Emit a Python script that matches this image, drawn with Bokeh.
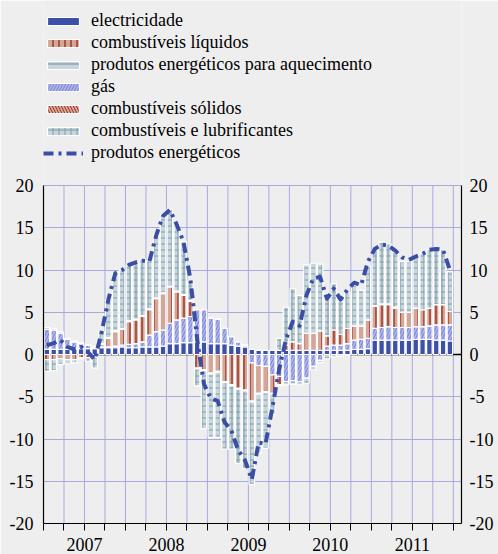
import numpy as np
from bokeh.plotting import figure
from bokeh.models import (ColumnDataSource, FixedTicker, LinearAxis, Legend,
                          LegendItem, Span, Range1d)
from bokeh.embed import file_html
from bokeh.resources import INLINE

years = ["2007", "2008", "2009", "2010", "2011"]

electricidade = [0.6, 0.6, 0.6, 0.6, 0.6, 0.7, 0.7, 0.7, 0.8, 0.8, 0.8, 0.9,
                 0.8, 0.8, 0.9, 0.9, 0.9, 1.0, 1.3, 1.3, 1.4, 1.4, 1.5, 1.5,
                 1.3, 1.3, 1.3, 1.1, 1.0, 0.9, 0.6, 0.5, 0.5, 0.5, 0.5, 0.5,
                 0.5, 0.5, 0.5, 0.5, 0.5, 0.5, 0.5, 0.5, 0.5, 0.6, 0.6, 0.7,
                 1.7, 1.7, 1.7, 1.7, 1.7, 1.7, 1.8, 1.8, 1.8, 1.7, 1.7, 1.6]
gas = [2.4, 2.3, 1.9, 1.2, 0.9, 0.6, 0.4, 0.2, 0.1, 0.1, 0.2, 0.2,
       0.4, 0.5, 0.6, 1.4, 1.8, 1.9, 2.4, 2.8, 2.9, 3.1, 3.8, 3.8,
       3.0, 2.9, 1.8, 1.0, 0.5, 0.2, -1.0, -1.3, -1.4, -2.4, -2.6, -3.2,
       -3.1, -3.2, -2.8, -1.4, -0.7, 0.5, 0.6, 0.6, 0.8, 1.1, 1.2, 1.2,
       1.4, 1.5, 1.6, 1.5, 1.5, 1.5, 1.5, 1.5, 1.6, 1.8, 1.8, 1.9]
combustiveis_solidos = [0.0, 0.0, 0.0, 0.0, 0.0, 0.0, 0.0, 0.0, 0.0, 0.0, 0.0, 0.0,
                        0.0, 0.0, 0.0, 0.0, 0.0, 0.0, 0.0, 0.0, 0.0, 0.0, 0.0, 0.0,
                        0.0, 0.0, 0.0, 0.0, 0.0, 0.0, 0.0, 0.0, 0.0, 0.0, 0.0, 0.0,
                        0.0, 0.0, 0.0, 0.0, 0.0, 0.0, 0.0, 0.0, 0.0, 0.0, 0.0, 0.0,
                        0.0, 0.0, 0.0, 0.0, 0.0, 0.0, 0.0, 0.0, 0.0, 0.0, 0.0, 0.0]
combustiveis_liquidos = [-0.6, -0.6, -0.5, -0.6, -0.6, -0.4, -0.4, -0.3, 0.3, 1.0, 1.7, 1.9,
                         2.7, 2.8, 3.0, 3.0, 3.9, 4.3, 4.3, 3.3, 2.7, 1.8, -1.6, -1.8,
                         -2.2, -2.0, -3.2, -3.6, -4.0, -4.2, -4.5, -3.3, -3.0, -2.2, -1.0, 0.6,
                         1.0, 0.8, 2.0, 2.0, 2.3, 1.2, 1.8, 1.3, 1.8, 1.7, 1.6, 2.2,
                         2.6, 2.7, 2.6, 2.3, 1.8, 1.8, 2.2, 2.0, 2.1, 2.4, 2.4, 1.6]
aquecimento = [0.2, 0.2, 0.2, 0.1, 0.1, 0.1, 0.0, 0.0, 0.1, 0.1, 0.1, 0.1,
               0.1, 0.1, 0.1, 0.1, 0.1, 0.1, 0.1, 0.1, 0.1, 0.1, -0.1, -0.1,
               -0.1, -0.1, -0.1, -0.1, -0.1, -0.1, -0.1, -0.1, -0.1, -0.1, -0.1, -0.4,
               -0.4, -0.4, -0.6, -0.4, -0.3, -0.5, -0.3, -0.2, -0.1, 0.0, 0.0, 0.0,
               0.1, 0.1, 0.1, 0.1, 0.0, 0.0, 0.0, 0.0, 0.0, 0.0, 0.0, 0.0]
lubrificantes = [-1.4, -1.3, -0.7, -0.5, -0.4, -0.1, -0.4, -1.3, 1.4, 4.5, 6.8, 6.9,
                 6.7, 6.7, 6.7, 5.7, 7.5, 9.2, 9.1, 8.0, 6.3, 2.3, -2.0, -6.9,
                 -7.5, -7.7, -7.9, -7.5, -8.8, -9.2, -9.8, -7.0, -6.6, -2.4, 1.4, 4.5,
                 6.3, 5.7, 8.1, 8.3, 7.9, 4.6, 5.5, 3.9, 4.3, 4.8, 4.2, 6.3,
                 6.6, 7.3, 7.1, 6.5, 6.0, 6.0, 6.1, 6.7, 6.9, 6.7, 6.5, 4.7]
produtos_energeticos = [1.1, 1.35, 1.7, 0.9, 0.6, 0.9, 0.3, -0.6, 2.6, 6.5, 9.6, 10.0,
                        10.6, 10.9, 11.1, 11.0, 14.1, 16.4, 17.1, 15.4, 13.3, 9.0, 1.8, -3.5,
                        -5.2, -5.5, -8.0, -9.0, -11.3, -12.5, -14.8, -10.4, -10.6, -6.3, -1.8, 1.8,
                        3.9, 3.4, 7.0, 9.0, 9.2, 6.6, 7.8, 6.5, 7.7, 8.5, 8.2, 11.0,
                        12.5, 13.0, 12.9, 12.3, 11.5, 11.2, 11.6, 11.9, 12.4, 12.5, 12.4, 10.0]
y_ticks = [-20, -15, -10, -5, 0, 5, 10, 15, 20]

FONT = "Liberation Serif"
BG = "#eeeeee"
GRID = "#a9a9e2"

n = len(electricidade)
x = [i + 0.5 for i in range(n)]
quarters = list(range(3, n + 1, 3))

# the frame reaches the top of the picture so that the legend is not clipped;
# the y axes, grid and ticks are bounded to -20..20
p = figure(width=498, height=554, output_backend="svg", toolbar_location=None,
           x_range=Range1d(0, 61.2), y_range=Range1d(-20, 41.9),
           min_border_left=43, min_border_right=37, min_border_top=0,
           min_border_bottom=31, background_fill_color=BG, border_fill_color=BG,
           outline_line_color=None)

p.xgrid.visible = False
p.ygrid.ticker = FixedTicker(ticks=y_ticks)
p.ygrid.grid_line_color = GRID

p.segment(x0=quarters, y0=[y_ticks[0]] * len(quarters), x1=quarters,
          y1=[y_ticks[-1]] * len(quarters), line_color=GRID, line_width=1,
          level="underlay")

p.add_layout(Span(location=0, dimension="width", line_color="black",
                  line_width=1.5, level="underlay"))

series = [
    ("electricidade", electricidade, dict(fill_color="#3c50a8", hatch_pattern=None)),
    ("gás", gas, dict(fill_color="#adb2ea", hatch_pattern="/", hatch_color="#6c78d0",
                      hatch_scale=6, hatch_weight=0.8)),
    ("combustíveis sólidos", combustiveis_solidos,
     dict(fill_color="#d4a696", hatch_pattern="\\", hatch_color="#a0382a",
          hatch_scale=6, hatch_weight=1)),
    ("combustíveis líquidos", combustiveis_liquidos,
     dict(fill_color="#d4a696", hatch_pattern="|", hatch_color="#a0382a",
          hatch_scale=6, hatch_weight=1.5)),
    ("produtos energéticos para aquecimento", aquecimento,
     dict(fill_color="#c7d6dc", hatch_pattern="-", hatch_color="#6f8e99",
          hatch_scale=6, hatch_weight=1)),
    ("combustíveis e lubrificantes", lubrificantes,
     dict(fill_color="#c7d6dc", hatch_pattern="+", hatch_color="#7f9ca6",
          hatch_scale=6, hatch_weight=1)),
]

pos = np.zeros(n)
neg = np.zeros(n)
renderers = {}
for name, vals, style in series:
    v = np.array(vals, dtype=float)
    bottom = np.where(v >= 0, pos, neg + v)
    top = np.where(v >= 0, pos + v, neg)
    pos = pos + np.clip(v, 0, None)
    neg = neg + np.clip(v, None, 0)
    src = ColumnDataSource(dict(x=x, top=top, bottom=bottom))
    r = p.vbar(x="x", width=0.8, top="top", bottom="bottom", source=src,
               line_color="white", line_width=1.2, **style)
    renderers[name] = r

line_r = p.line(x, produtos_energeticos, line_color="#3b4ea6", line_width=4,
                line_dash="10 5 3 5", line_join="round")

# axes
p.xaxis.ticker = FixedTicker(ticks=[6, 18, 30, 42, 54],
                             minor_ticks=list(range(0, n + 1, 3)))
p.xaxis.major_label_overrides = {6 + 12 * k: yr for k, yr in enumerate(years)}
p.xaxis.major_tick_out = 0
p.xaxis.major_tick_in = 0
p.xaxis.minor_tick_out = 7
p.xaxis.minor_tick_in = 0
p.xaxis.minor_tick_line_color = "black"
p.xaxis.major_label_standoff = 7

ylabels = {t: str(t) for t in y_ticks}
p.yaxis.ticker = FixedTicker(ticks=y_ticks)
p.yaxis.major_label_overrides = ylabels
p.yaxis.major_label_standoff = 10
p.yaxis.bounds = (y_ticks[0], y_ticks[-1])
right = LinearAxis(ticker=FixedTicker(ticks=y_ticks), major_label_overrides=ylabels,
                   major_label_standoff=8, bounds=(y_ticks[0], y_ticks[-1]))
p.add_layout(right, "right")

for ax in p.xaxis + p.yaxis + [right]:
    ax.axis_line_color = "black"
    ax.axis_line_width = 1.2
    ax.major_label_text_font = FONT
    ax.major_label_text_font_size = "18px"
    ax.major_label_text_color = "black"
for ax in p.yaxis + [right]:
    ax.major_tick_out = 0
    ax.major_tick_in = 0
    ax.minor_tick_out = 0
    ax.minor_tick_in = 0

legend_order = ["electricidade", "combustíveis líquidos",
                "produtos energéticos para aquecimento", "gás",
                "combustíveis sólidos", "combustíveis e lubrificantes"]
items = [LegendItem(label=nm, renderers=[renderers[nm]]) for nm in legend_order]
items.append(LegendItem(label="produtos energéticos", renderers=[line_r]))
legend = Legend(items=items, location=(0, 360), label_text_font=FONT,
                label_text_font_size="18px", label_text_color="black",
                glyph_width=40, glyph_height=10, label_standoff=8, label_height=20,
                spacing=1, padding=0, margin=0, border_line_color=None,
                background_fill_alpha=0)
p.add_layout(legend, "center")

html = file_html(p, INLINE)
html = html.replace("<body>", '<body style="background-color:#eeeeee;">', 1)
open("out.html", "w").write(html)
